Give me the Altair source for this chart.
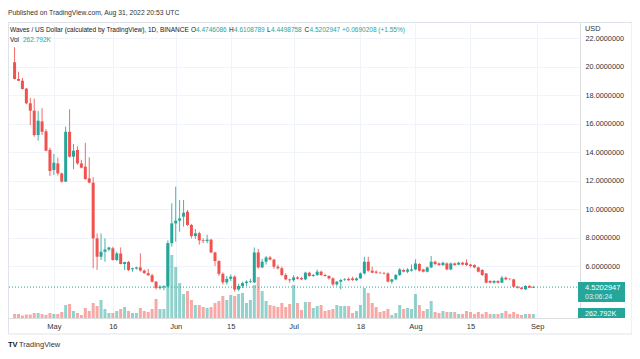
import altair as alt
import pandas as pd

# ---- data (daily candles, Apr 21 .. Aug 31 2022) ----
day_index = list(range(133))

opens = [20.3, 19.12, 19.0, 18.45, 17.42, 16.9, 15.19, 16.15, 15.45, 14.15,
         12.74, 13.2, 12.5, 11.92, 15.42, 13.67, 14.14, 13.2, 12.97, 12.15,
         11.85, 7.94, 6.65, 7.0, 7.16, 7.24, 6.42, 6.88, 6.14, 6.28,
         5.77, 5.82, 5.9, 5.68, 5.5, 5.35, 4.9, 4.45, 4.5, 4.58,
         7.6, 8.99, 9.18, 9.46, 9.81, 8.88, 8.1, 8.3, 7.8, 7.75,
         7.85, 6.95, 6.35, 5.45, 4.85, 5.1, 5.25, 4.35, 4.6, 4.8,
         4.9, 4.85, 6.95, 5.9, 6.3, 6.6, 6.45, 5.95, 5.84, 5.37,
         5.06, 5.0, 5.2, 5.15, 5.06, 5.53, 5.3, 5.37, 5.6, 5.37,
         5.3, 5.13, 4.71, 4.9, 5.02, 5.1, 5.13, 5.0, 5.13, 5.48,
         6.3, 5.67, 5.6, 5.53, 5.5, 5.48, 4.9, 5.06, 5.37, 5.72,
         5.6, 5.68, 5.76, 6.14, 5.76, 5.6, 5.9, 6.3, 6.18, 6.07,
         6.18, 5.76, 6.18, 6.1, 6.23, 6.23, 6.1, 6.07, 5.9, 5.72,
         5.48, 4.95, 4.83, 4.95, 4.83, 5.18, 5.1, 5.06, 4.55, 4.48,
         4.36, 4.6, 4.4746086]
highs = [21.35, 19.63, 19.2, 18.5, 17.8, 17.75, 16.88, 17.07, 15.6, 14.3,
         13.86, 13.6, 12.55, 15.78, 17.0, 14.56, 14.4, 13.45, 14.65, 13.63,
         12.23, 8.29, 8.29, 7.94, 7.35, 7.35, 7.0, 7.3, 6.3, 6.35,
         5.88, 5.95, 6.89, 5.75, 5.8, 5.45, 4.95, 4.65, 4.65, 7.8,
         10.4, 11.57, 10.63, 10.63, 9.93, 8.95, 8.6, 8.4, 7.95, 8.2,
         7.9, 7.0, 6.4, 5.55, 5.3, 5.4, 5.35, 4.75, 4.9, 5.0,
         5.1, 7.3, 7.2, 6.5, 6.7, 6.7, 6.5, 6.1, 5.95, 5.5,
         5.1, 5.35, 5.28, 5.25, 5.6, 5.6, 5.45, 5.75, 5.68, 5.45,
         5.35, 5.2, 4.95, 5.1, 5.15, 5.2, 5.25, 5.2, 5.55, 6.65,
         6.65, 5.95, 5.7, 5.6, 5.58, 5.55, 5.1, 5.45, 5.85, 5.8,
         5.85, 6.1, 6.47, 6.2, 5.8, 5.95, 6.7, 6.38, 6.25, 6.3,
         6.25, 6.25, 6.25, 6.3, 6.3, 6.47, 6.15, 6.12, 5.95, 5.78,
         5.5, 5.0, 5.0, 5.0, 5.3, 5.25, 5.15, 5.1, 4.6, 4.52,
         4.65, 4.65, 4.6108789]
lows = [19.1, 18.98, 18.38, 17.35, 15.9, 15.07, 14.8, 15.2, 14.05, 12.32,
        12.39, 12.35, 11.85, 11.9, 13.6, 12.79, 13.1, 12.85, 12.05, 11.8,
        5.84, 5.72, 6.42, 6.3, 7.05, 6.38, 6.35, 6.12, 5.72, 5.65,
        5.6, 5.75, 5.6, 5.45, 5.3, 4.85, 4.35, 4.35, 4.3, 4.5,
        7.36, 7.71, 8.41, 8.76, 8.8, 7.94, 7.9, 7.5, 7.6, 7.6,
        6.9, 6.0, 5.3, 4.7, 4.7, 4.95, 4.2, 4.25, 4.45, 4.6,
        4.8, 4.8, 5.8, 5.85, 6.1, 6.4, 5.8, 5.75, 5.3, 5.0,
        4.83, 4.9, 5.05, 5.0, 5.0, 5.25, 5.25, 5.3, 5.3, 5.25,
        5.05, 4.6, 4.6, 4.36, 4.95, 4.95, 4.95, 4.95, 5.1, 5.4,
        5.6, 5.5, 5.45, 5.45, 5.4, 4.85, 4.75, 5.0, 5.3, 5.55,
        5.5, 5.6, 5.7, 5.6, 5.55, 5.55, 5.85, 6.05, 6.0, 6.0,
        5.7, 5.7, 6.0, 6.05, 6.05, 6.0, 5.9, 5.85, 5.55, 5.3,
        4.78, 4.78, 4.75, 4.78, 4.8, 5.0, 5.0, 4.5, 4.42, 4.35,
        4.33, 4.45, 4.4498758]
closes = [19.12, 19.0, 18.42, 17.42, 16.9, 15.19, 16.2, 15.42, 14.09, 12.67,
          13.25, 12.5, 11.92, 15.42, 13.67, 14.09, 13.2, 12.9, 12.1, 11.85,
          7.94, 6.65, 7.0, 7.16, 7.3, 6.42, 6.88, 6.14, 6.28, 5.72,
          5.84, 5.9, 5.68, 5.5, 5.35, 4.9, 4.45, 4.55, 4.58, 7.6,
          8.99, 9.18, 9.34, 9.74, 8.88, 8.1, 8.3, 7.8, 7.75, 7.85,
          6.95, 6.35, 5.45, 4.85, 5.1, 5.25, 4.35, 4.6, 4.8, 4.9,
          4.95, 6.95, 5.9, 6.3, 6.6, 6.45, 5.95, 5.84, 5.37, 5.06,
          5.0, 5.2, 5.11, 5.06, 5.53, 5.3, 5.37, 5.6, 5.37, 5.3,
          5.13, 4.71, 4.9, 5.02, 5.06, 5.0, 5.02, 5.13, 5.48, 6.3,
          5.67, 5.53, 5.53, 5.5, 5.47, 4.9, 5.06, 5.37, 5.76, 5.6,
          5.75, 5.76, 6.18, 5.67, 5.6, 5.9, 6.3, 6.14, 6.07, 6.23,
          5.76, 6.18, 6.07, 6.23, 6.1, 6.07, 6.0, 5.9, 5.6, 5.37,
          4.83, 4.83, 4.95, 4.83, 5.18, 5.06, 5.08, 4.55, 4.48, 4.39,
          4.6, 4.48, 4.5202947]
volumes_k = [263, 263, 164, 230, 230, 329, 329, 263, 197, 329,
             263, 263, 394, 854, 920, 460, 329, 197, 657, 460,
             986, 788, 1183, 591, 329, 329, 460, 591, 723, 460,
             329, 329, 657, 460, 394, 591, 1248, 591, 591, 4928,
             4139, 3351, 2300, 1577, 1774, 1183, 854, 854, 723, 657,
             723, 986, 1117, 1445, 1183, 1511, 1445, 1577, 1643, 986,
             1183, 2168, 2694, 1774, 1117, 854, 788, 723, 986, 723,
             920, 2168, 986, 526, 1051, 1051, 657, 788, 854, 460,
             526, 591, 854, 788, 788, 788, 329, 460, 854, 1971,
             1643, 986, 723, 394, 460, 591, 197, 329, 854, 591,
             657, 591, 1577, 854, 460, 591, 1117, 394, 329, 460,
             394, 394, 394, 263, 263, 460, 394, 263, 394, 263,
             394, 263, 263, 263, 329, 460, 263, 394, 263, 197,
             263, 263, 262.792]

tick_days = [10, 25, 41, 55, 71, 88, 102, 116, 133]
tick_labels = ["May", "16", "Jun", "15", "Jul", "18", "Aug", "15", "Sep"]
price_ticks = [6, 8, 10, 12, 14, 16, 18, 20, 22]
last_price = [4.5202947]

# ---- build table ----
df = pd.DataFrame({"day": day_index, "open": opens, "high": highs,
                   "low": lows, "close": closes, "vol": volumes_k})
df["dir"] = ["up" if c >= o else "down" for o, c in zip(opens, closes)]

UP, DOWN, TXT = "#26a69a", "#ef5350", "#131722"
FONT = "Liberation Sans"
W, H = 572, 296

label_expr = " : ".join(f"datum.value == {d} ? '{t}'" for d, t in zip(tick_days, tick_labels)) + " : ''"
x_axis = alt.Axis(values=tick_days, labelExpr=label_expr, title=None, ticks=False,
                  domain=False, grid=True, gridColor="#f0f3fa", labelFont=FONT,
                  labelFontSize=7.5, labelColor="#333", labelPadding=4)
y_axis = alt.Axis(values=price_ticks, format=".7f", orient="right", title=None,
                  ticks=False, domain=False, grid=True, gridColor="#f0f3fa",
                  labelFont=FONT, labelFontSize=7.3, labelColor="#333",
                  labelPadding=5, labelBaseline="middle")

x_scale = alt.Scale(domain=[-0.4, 142.6], nice=False, zero=False)
y_scale = alt.Scale(domain=[2.351, 23.123], nice=False, zero=False)
v_scale = alt.Scale(domain=[0, 19450], nice=False)
col = alt.Color("dir:N", scale=alt.Scale(domain=["up", "down"], range=[UP, DOWN]), legend=None)
x_enc = alt.X("day:Q", scale=x_scale, axis=x_axis)

base = alt.Chart(df)
volume = base.mark_bar(size=3, opacity=0.5).encode(
    x=x_enc, y=alt.Y("vol:Q", scale=v_scale, axis=None), color=col)
wicks = base.mark_rule(strokeWidth=1, opacity=0.85).encode(
    x=x_enc, y=alt.Y("low:Q", scale=y_scale, axis=y_axis), y2="high:Q", color=col)
bodies = base.mark_bar(size=3).encode(
    x=x_enc, y=alt.Y("open:Q", scale=y_scale, axis=y_axis), y2="close:Q", color=col)
price_line = alt.Chart(pd.DataFrame({"p": last_price})).mark_rule(
    color=UP, strokeDash=[1, 2], strokeWidth=1).encode(
    y=alt.Y("p:Q", scale=y_scale, axis=y_axis))

price = alt.layer(price_line, wicks, bodies)

one = pd.DataFrame({"a": [0]})


def label(txt, x, y, color=TXT, size=6.5, weight="normal", opacity=1.0):
    return alt.Chart(one).mark_text(text=txt, align="left", baseline="middle",
                                    font=FONT, fontSize=size, fontWeight=weight,
                                    color=color, opacity=opacity).encode(
        x=alt.value(x), y=alt.value(y))


frame = alt.Chart(one).mark_rect(fillOpacity=0, stroke="#e0e3eb", strokeWidth=1).encode(
    x=alt.value(0.5), x2=alt.value(624), y=alt.value(0.5), y2=alt.value(312))
price_box = alt.Chart(one).mark_rect(fill=UP).encode(
    x=alt.value(570), x2=alt.value(617), y=alt.value(260), y2=alt.value(280))
vol_box = alt.Chart(one).mark_rect(fill=UP).encode(
    x=alt.value(570), x2=alt.value(617), y=alt.value(286), y2=alt.value(296))

texts = [
    label("Published on TradingView.com, Aug 31, 2022 20:53 UTC", 0, -9.5, color="#333", size=6.8),
    label("Waves / US Dollar (calculated by TradingView), 1D, BINANCE", 2, 7.5),
    label("O", 183, 7.5), label("4.4746086", 188, 7.5, color=UP),
    label("H", 221, 7.5), label("4.6108789", 226, 7.5, color=UP),
    label("L", 259, 7.5), label("4.4498758", 263, 7.5, color=UP),
    label("C", 296.5, 7.5), label("4.5202947", 301.5, 7.5, color=UP),
    label("+0.0690208 (+1.55%)", 334, 7.5, color=UP),
    label("Vol", 2, 17.5), label("262.792K", 15, 17.5, color=UP),
    label("USD", 577, 7, color="#333", size=7.3),
    label("4.5202947", 577, 266, color="white", size=7.5),
    label("03:06:24", 577, 275, color="white", size=7, opacity=0.85),
    label("262.792K", 577, 291.5, color="white", size=7.3),
    label("TV", 0, 323, size=7.5, weight="bold"),
    label("TradingView", 11, 323, color="#333", size=7.5),
]

chart = alt.layer(volume, price, frame, price_box, vol_box, *texts).resolve_scale(
    y="independent").properties(
    width=W, height=H, autosize=alt.AutoSizeParams(type="none"),
    padding={"left": 0, "top": 14, "right": 52, "bottom": 36}
).configure_view(strokeWidth=0).configure(background="white")

chart.save("out.html", embed_options={"renderer": "svg", "actions": False})
